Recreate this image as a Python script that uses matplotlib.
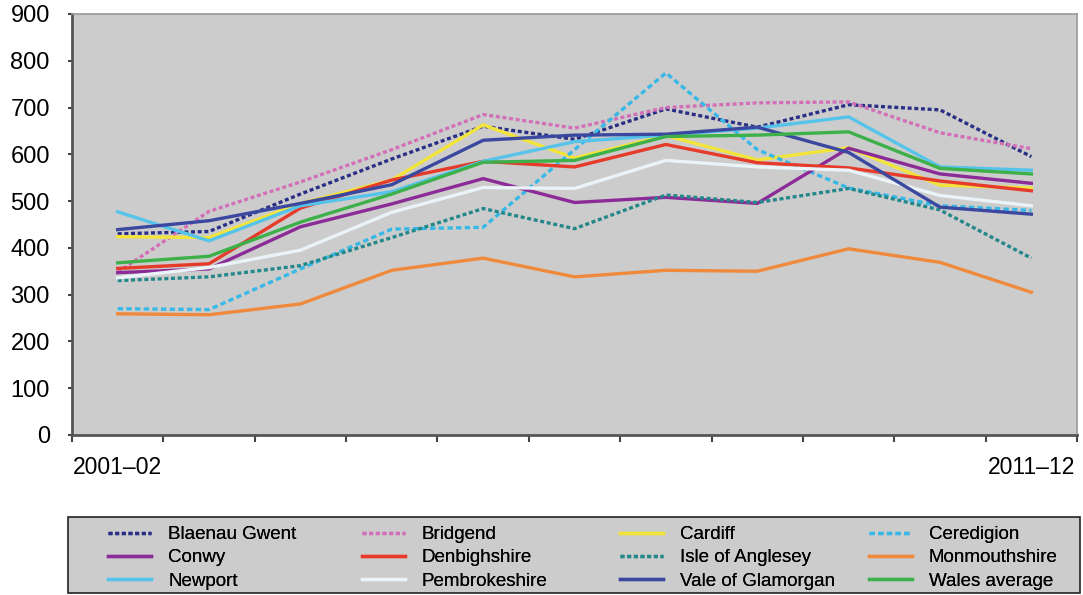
import matplotlib
matplotlib.use("Agg")
import matplotlib.pyplot as plt
from matplotlib.patches import Rectangle
from matplotlib.ticker import FixedLocator, NullFormatter

plt.rcParams['font.family'] = ['Liberation Sans', 'DejaVu Sans']

years = ['2001–02', '2002–03', '2003–04', '2004–05', '2005–06', '2006–07',
         '2007–08', '2008–09', '2009–10', '2010–11', '2011–12']

blaenau_gwent = [430, 435, 515, 590, 660, 632, 697, 658, 706, 695, 595]
bridgend = [348, 478, 541, 610, 685, 656, 700, 710, 712, 646, 612]
cardiff = [424, 422, 495, 545, 663, 592, 640, 588, 614, 534, 528]
ceredigion = [270, 268, 355, 440, 444, 610, 774, 610, 528, 490, 480]
conwy = [347, 355, 445, 494, 548, 497, 508, 495, 613, 558, 538]
denbighshire = [356, 366, 485, 545, 585, 573, 621, 582, 571, 543, 522]
isle_of_anglesey = [330, 338, 362, 422, 484, 441, 513, 497, 527, 481, 378]
monmouthshire = [259, 257, 280, 352, 378, 338, 352, 350, 398, 369, 305]
newport = [477, 415, 490, 520, 585, 627, 641, 656, 680, 573, 566]
pembrokeshire = [336, 358, 395, 476, 529, 527, 587, 573, 566, 512, 490]
vale_of_glamorgan = [439, 458, 495, 535, 630, 641, 643, 658, 604, 487, 472]
wales_average = [368, 382, 455, 515, 583, 587, 638, 641, 648, 570, 558]

series = [
    ('Blaenau Gwent', blaenau_gwent, '#2a2f86', (0, (1.2, 0.8))),
    ('Bridgend', bridgend, '#d36fb9', (0, (1.2, 0.8))),
    ('Cardiff', cardiff, '#f3e43c', '-'),
    ('Ceredigion', ceredigion, '#37b8e6', (0, (1.6, 1.0))),
    ('Conwy', conwy, '#8b2b97', '-'),
    ('Denbighshire', denbighshire, '#e63a2a', '-'),
    ('Isle of Anglesey', isle_of_anglesey, '#24878a', (0, (1.2, 0.8))),
    ('Monmouthshire', monmouthshire, '#ef8a3c', '-'),
    ('Newport', newport, '#56c3ea', '-'),
    ('Pembrokeshire', pembrokeshire, '#eaf3f7', '-'),
    ('Vale of Glamorgan', vale_of_glamorgan, '#3b48a0', '-'),
    ('Wales average', wales_average, '#3db04a', '-'),
]

fig = plt.figure(figsize=(10.83, 5.95), dpi=100)
ax = fig.add_axes([0.0665, 0.269, 0.928, 0.7075])
ax.set_facecolor('#cccccc')

x = list(range(len(years)))
handles = {}
for name, vals, color, ls in series:
    line, = ax.plot(x, vals, color=color, linestyle=ls, linewidth=2.4,
                    solid_joinstyle='miter', label=name)
    handles[name] = line

ax.set_xlim(-0.5, len(years) - 0.5)
ax.set_ylim(0, 900)
ax.set_yticks(range(0, 901, 100))

# only first and last season labelled, ticks on category boundaries
ax.set_xticks([0, len(years) - 1])
ax.set_xticklabels([years[0], years[-1]])
ax.tick_params(axis='x', which='major', length=0, pad=15, labelsize=16.5)
ax.xaxis.set_minor_locator(FixedLocator([i - 0.5 for i in range(len(years) + 1)]))
ax.xaxis.set_minor_formatter(NullFormatter())
ax.tick_params(axis='x', which='minor', length=5, width=1.5, color='#444444')
ax.tick_params(axis='y', length=3, width=1.5, color='#444444', labelsize=17, pad=13)

for side in ['left', 'bottom']:
    ax.spines[side].set_color('#555555')
    ax.spines[side].set_linewidth(2)
for side in ['top', 'right']:
    ax.spines[side].set_color('#999999')
    ax.spines[side].set_linewidth(1.2)

# legend box with four fixed-width columns filled row by row
fig.patches.append(Rectangle((0.0628, 0.0034), 0.9344, 0.1277,
                             transform=fig.transFigure, facecolor='#cccccc',
                             edgecolor='#222222', linewidth=1.2, zorder=0))
columns = [['Blaenau Gwent', 'Conwy', 'Newport'],
           ['Bridgend', 'Denbighshire', 'Pembrokeshire'],
           ['Cardiff', 'Isle of Anglesey', 'Vale of Glamorgan'],
           ['Ceredigion', 'Monmouthshire', 'Wales average']]
col_x = [108, 362, 620, 869]
for names, px in zip(columns, col_x):
    leg = fig.legend([handles[n] for n in names], names, loc='upper left',
                     bbox_to_anchor=(px / 1083, 1 - 526 / 595),
                     frameon=False, fontsize=13.5, handlelength=2.3,
                     handletextpad=0.9, labelspacing=0.33, borderpad=0,
                     borderaxespad=0)
    fig.add_artist(leg)

fig.savefig('out.png', dpi=100)
